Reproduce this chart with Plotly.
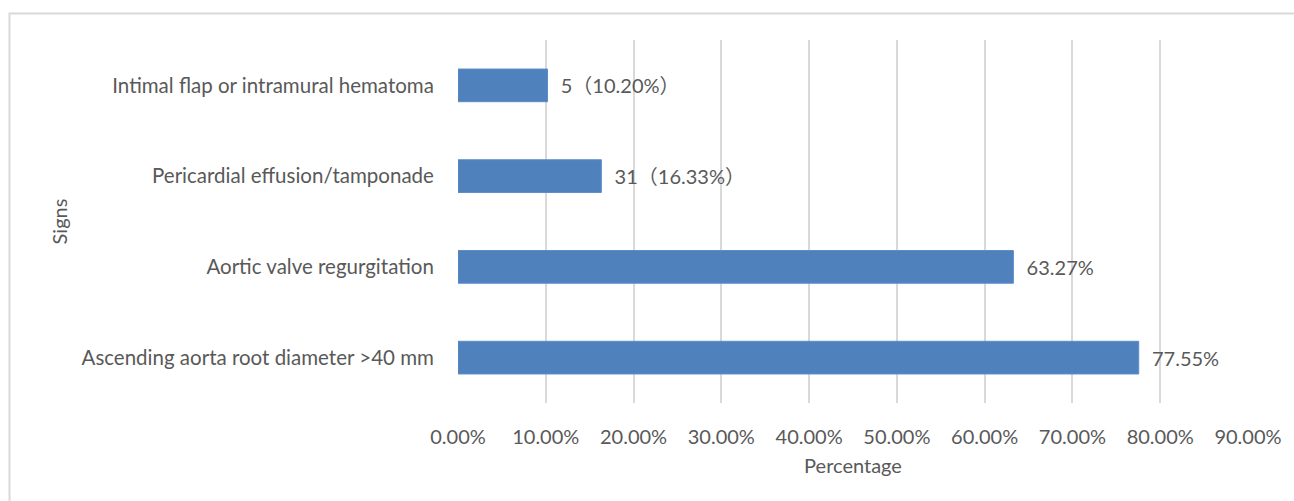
import plotly.graph_objects as go

categories = [
    "Ascending aorta root diameter >40 mm",
    "Aortic valve regurgitation",
    "Pericardial effusion/tamponade",
    "Intimal flap or intramural hematoma",
]
values = [77.55, 63.27, 16.33, 10.20]
labels = ["77.55%", "63.27%", "31（16.33%）", "5（10.20%）"]
tick_vals = [0, 10, 20, 30, 40, 50, 60, 70, 80, 90]
tick_text = ["0.00%", "10.00%", "20.00%", "30.00%", "40.00%", "50.00%",
             "60.00%", "70.00%", "80.00%", "90.00%"]

FONT = "Lato, 'Noto Sans CJK SC', sans-serif"
GRAY = "#595959"

fig = go.Figure(go.Bar(
    y=categories, x=values, orientation="h",
    marker=dict(color="#4f81bd", line=dict(color="#5b8ccb", width=1)),
    width=0.36,
    text=labels, textposition="outside", cliponaxis=False,
    texttemplate="\u00a0\u00a0%{text}",
    textfont=dict(family=FONT, size=20, color=GRAY),
))

fig.update_layout(
    width=1294, height=501,
    margin=dict(l=458, r=46, t=40, b=98),
    paper_bgcolor="white", plot_bgcolor="white",
    showlegend=False,
    font=dict(family=FONT, color=GRAY),
    bargap=0.64,
)
fig.update_xaxes(
    range=[0, 90], tickvals=tick_vals, ticktext=tick_text,
    showgrid=True, gridcolor="#d9d9d9", gridwidth=1.5,
    zeroline=False, showline=False,
    tickfont=dict(family=FONT, size=20, color=GRAY),
    ticks="outside", ticklen=16, tickcolor="rgba(0,0,0,0)",
    title=dict(text="Percentage", font=dict(family=FONT, size=20, color=GRAY), standoff=11),
)
fig.update_yaxes(
    showgrid=False, zeroline=False, showline=False,
    tickfont=dict(family=FONT, size=20.5, color=GRAY),
    ticks="outside", ticklen=19, tickcolor="rgba(0,0,0,0)",
    title=dict(text="Signs", font=dict(family=FONT, size=20, color=GRAY), standoff=8),
)
# outer frame
fig.add_shape(type="rect", xref="paper", yref="paper",
              x0=(9.5 - 458) / 790, x1=1.2, y0=-0.5, y1=1 + (40 - 13.5) / 363,
              line=dict(color="#d9d9d9", width=2), fillcolor="rgba(0,0,0,0)", layer="below")

fig.write_html("out.html")
